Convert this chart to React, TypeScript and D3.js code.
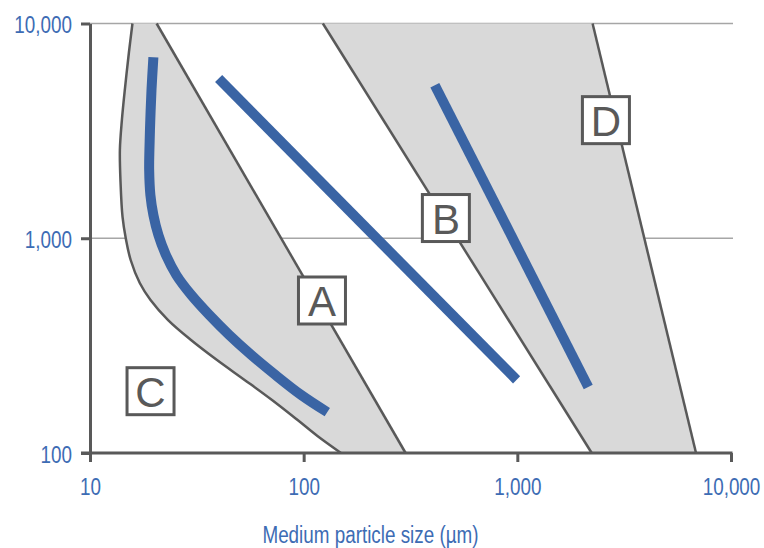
import React, { useEffect, useRef } from 'react';
import * as d3 from 'd3';

// particle size (µm) vs. the y quantity, both log scales
const xTicks = [10, 100, 1000, 10000];
const yTicks = [100, 1000, 10000];
const gridValues = [1000, 10000];

// left boundary of region A (curved, C side), top to bottom
const curveC: [number, number][] = [
  [15.8, 10000], [15.2, 7290], [14.6, 5060], [14.1, 3550], [13.8, 2580],
  [13.9, 1810], [14.2, 1256], [14.7, 1000], [15.5, 792], [17.1, 619],
  [19.2, 516], [23.2, 416], [29.7, 336], [39.3, 271], [52.9, 219],
  [71.1, 176.5], [94, 142], [116, 120], [149.5, 100],
];
// straight boundaries (top point, bottom point)
const lineA: [number, number][] = [[20.5, 10000], [300, 100]];
const lineB: [number, number][] = [[123, 10000], [2230, 100]];
const lineD: [number, number][] = [[2250, 10000], [6860, 100]];

// blue trend lines
const blueCurve: [number, number][] = [
  [19.8, 6960], [19.4, 4900], [19.15, 3550], [18.97, 2580], [18.92, 2080],
  [19.17, 1590], [19.8, 1283], [20.9, 1035], [22.66, 836], [25.37, 674],
  [29.8, 544], [36.2, 439], [44.9, 354], [56.9, 286], [73.7, 231],
  [97.6, 186], [129, 155],
];
const blueLine1: [number, number][] = [[40, 5540], [992, 219]];
const blueLine2: [number, number][] = [[411, 5160], [2147, 203]];

const labels = ['A', 'B', 'C', 'D'];
const labelPos: [number, number][] = [[121.8, 513], [463, 1242], [19.2, 194], [2598, 3548]];

const W = 764, H = 548;
const blue = '#3a64a4';
const textBlue = '#3d6cb4';
const dark = '#595959';
const sans = '"Liberation Sans", Arial, sans-serif';
const squeeze = 0.82; // Liberation Sans squeezed to look like a narrow face

export default function App() {
  const ref = useRef<SVGSVGElement>(null);

  useEffect(() => {
    const svg = d3.select(ref.current);
    svg.selectAll('*').remove();

    const x = d3.scaleLog().domain([10, 10000]).range([90, 731]);
    const y = d3.scaleLog().domain([100, 10000]).range([453, 23.5]);

    const curve = d3.line<[number, number]>()
      .x(d => x(d[0]))
      .y(d => y(d[1]))
      .curve(d3.curveCatmullRom.alpha(0.5));
    const straight = d3.line<[number, number]>()
      .x(d => x(d[0]))
      .y(d => y(d[1]));

    // gridlines
    svg.append('g')
      .selectAll('line')
      .data(gridValues)
      .enter().append('line')
      .attr('x1', 90).attr('x2', 733)
      .attr('y1', d => y(d)).attr('y2', d => y(d))
      .attr('stroke', '#a6a6a6')
      .attr('stroke-width', 1.5);

    // shaded regions
    const regionA = curve(curveC) +
      'L' + x(lineA[1][0]) + ',' + y(lineA[1][1]) +
      'L' + x(lineA[0][0]) + ',' + y(lineA[0][1]) + 'Z';
    svg.append('path').attr('d', regionA).attr('fill', '#d9d9d9');
    svg.append('path')
      .attr('d', straight([lineB[0], lineB[1], lineD[1], lineD[0]]) + 'Z')
      .attr('fill', '#d9d9d9');

    // boundaries
    svg.append('path').attr('d', curve(curveC))
      .attr('fill', 'none').attr('stroke', dark).attr('stroke-width', 2.5);
    [lineA, lineB, lineD].forEach(l => {
      svg.append('path').attr('d', straight(l))
        .attr('fill', 'none').attr('stroke', dark).attr('stroke-width', 2.5);
    });

    // blue lines
    svg.append('path').attr('d', curve(blueCurve))
      .attr('fill', 'none').attr('stroke', blue).attr('stroke-width', 10);
    [blueLine1, blueLine2].forEach(l => {
      svg.append('path').attr('d', straight(l))
        .attr('fill', 'none').attr('stroke', blue).attr('stroke-width', 10);
    });

    // label boxes
    const box = svg.append('g')
      .selectAll('g')
      .data(labels)
      .enter().append('g')
      .attr('transform', (d, i) => 'translate(' + x(labelPos[i][0]) + ',' + y(labelPos[i][1]) + ')');
    box.append('rect')
      .attr('x', -23.5).attr('y', -23.5)
      .attr('width', 47).attr('height', 47)
      .attr('fill', '#fff')
      .attr('stroke', dark)
      .attr('stroke-width', 3);
    box.append('text')
      .attr('text-anchor', 'middle')
      .attr('y', 15.5)
      .attr('font-family', sans)
      .attr('font-size', 42)
      .attr('fill', dark)
      .text(d => d);

    // axes
    const fmt = d3.format(',');
    const xAxis = svg.append('g')
      .attr('transform', 'translate(0,453)')
      .call(d3.axisBottom(x).tickValues(xTicks).tickFormat(d => fmt(d as number)).tickSize(9).tickSizeOuter(0));
    const yAxis = svg.append('g')
      .attr('transform', 'translate(90,0)')
      .call(d3.axisLeft(y).tickValues(yTicks).tickFormat(d => fmt(d as number)).tickSize(9).tickSizeOuter(0));

    [xAxis, yAxis].forEach(a => {
      a.select('.domain').attr('stroke', dark).attr('stroke-width', 3);
      a.selectAll('.tick line').attr('stroke', dark).attr('stroke-width', 3);
      a.selectAll('.tick text')
        .attr('fill', textBlue)
        .attr('font-family', sans)
        .attr('font-size', 23)
        .attr('transform', 'scale(' + squeeze + ',1)');
    });
    xAxis.select('.domain').attr('d', 'M81,0H732.5');
    xAxis.selectAll('.tick text').attr('y', 42).attr('dy', 0);
    yAxis.selectAll('.tick text').attr('x', -18 / squeeze).attr('dy', '0.4em');

    svg.append('g')
      .attr('transform', 'translate(370.5,543) scale(' + squeeze + ',1)')
      .append('text')
      .attr('text-anchor', 'middle')
      .attr('font-family', sans)
      .attr('font-size', 23)
      .attr('fill', textBlue)
      .text('Medium particle size (µm)');
  }, []);

  return (
    <svg
      xmlns="http://www.w3.org/2000/svg"
      ref={ref}
      width={W}
      height={H}
      style={{ position: 'absolute', left: 0, top: 0, background: '#fff' }}
    />
  );
}
